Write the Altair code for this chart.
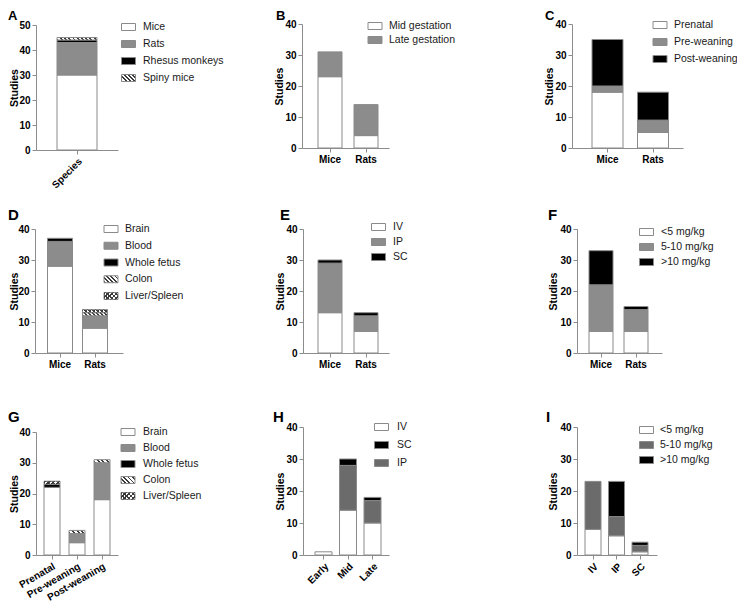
import math
import altair as alt
import pandas as pd

FONT = "Arial, Liberation Sans, sans-serif"

# ------------------------------------------------------------------ data
A_categories = ["Species"]
A_series = ["Mice", "Rats", "Rhesus monkeys", "Spiny mice"]
A_values = [[30, 13, 1, 1]]

B_categories = ["Mice", "Rats"]
B_series = ["Mid gestation", "Late gestation"]
B_values = [[23, 8], [4, 10]]

C_categories = ["Mice", "Rats"]
C_series = ["Prenatal", "Pre-weaning", "Post-weaning"]
C_values = [[18, 2, 15], [5, 4, 9]]

D_categories = ["Mice", "Rats"]
D_series = ["Brain", "Blood", "Whole fetus", "Colon", "Liver/Spleen"]
D_values = [[28, 8, 1, 0, 0], [8, 4, 0, 1, 1]]

E_categories = ["Mice", "Rats"]
E_series = ["IV", "IP", "SC"]
E_values = [[13, 16, 1], [7, 5, 1]]

F_categories = ["Mice", "Rats"]
F_series = ["<5 mg/kg", "5-10 mg/kg", ">10 mg/kg"]
F_values = [[7, 15, 11], [7, 7, 1]]

G_categories = ["Prenatal", "Pre-weaning", "Post-weaning"]
G_series = ["Brain", "Blood", "Whole fetus", "Colon", "Liver/Spleen"]
G_values = [[22, 0, 1, 0, 1], [4, 3, 0, 1, 0], [18, 12, 0, 1, 0]]

H_categories = ["Early", "Mid", "Late"]
H_series = ["IV", "IP", "SC"]          # stacking order
H_legend = ["IV", "SC", "IP"]          # legend order
H_values = [[1, 0, 0], [14, 14, 2], [10, 7, 1]]

I_categories = ["IV", "IP", "SC"]
I_series = ["<5 mg/kg", "5-10 mg/kg", ">10 mg/kg"]
I_values = [[8, 15, 0], [6, 6, 11], [1, 2, 1]]

# ------------------------------------------------------------------ styles
FILL = {"white": "#ffffff", "gray": "#8c8c8c", "dark": "#6b6b6b", "black": "#000000"}
STROKE = "#8a8a8a"
AXC = "#8c8c8c"
CW, CH = 729, 597
RECT = "M-1,-0.5H1V0.5H-1Z"


def stripes(w, h, direction, fg="#3a3a3a", bg="#ffffff", period=3.0, frac=0.45):
    L = (w + h) / math.sqrt(2)
    n = max(1, int(round(L / period)))
    a, b = 1.0 / h, 1.0 / w
    f = (a + b) / (a * a + b * b)
    if direction == "back":
        x1, y1, x2, y2 = 0, 1, f * a, 1 - f * b
    else:
        x1, y1, x2, y2 = 0, 0, f * a, f * b
    stops = []
    for i in range(n):
        s0, s1, s2 = i / n, (i + frac) / n, (i + 1) / n
        stops += [(s0, fg), (s1, fg), (s1, bg), (s2, bg)]
    return alt.LinearGradient(
        gradient="linear",
        stops=[alt.GradientStop(color=c, offset=round(o, 5)) for o, c in stops],
        x1=x1, y1=y1, x2=x2, y2=y2,
    )


def fills_for(style, w, h):
    """list of (fill, draw_stroke) layers for a style"""
    if style in FILL:
        return [(FILL[style], True)]
    if style == "hatch":
        return [(stripes(w, h, "back"), True)]
    # cross hatch
    return [(stripes(w, h, "back"), True),
            (stripes(w, h, "fwd", bg="rgba(255,255,255,0)"), False)]


def panel(letter, cats, series, values, styles, legend_order, L):
    rows = []
    for ci, cat in enumerate(cats):
        acc = 0
        for si, s in enumerate(series):
            v = values[ci][si]
            if v > 0:
                rows.append({"cat": cat, "series": s, "style": styles[si],
                             "lo": acc, "hi": acc + v})
            acc += v
    df = pd.DataFrame(rows)

    W = L["xend"] - L["ax"]
    n = len(cats)
    step = L["step"]
    po = (W / step - n) / 2
    al = (L["c0"] - step / 2) / (W - step * n)
    ymax = L["ymax"]
    ppu = (L["y0"] - L["ytop"]) / ymax

    xenc = alt.X(
        "cat:N",
        scale=alt.Scale(type="band", domain=cats, range=[L["ax"] - 8, L["xend"] - 8],
                        paddingInner=0, paddingOuter=po, align=al),
        axis=alt.Axis(title=None, orient="bottom", offset=(L["y0"] - 8) - CH,
                      labelAngle=L["angle"],
                      labelFont=FONT, labelFontWeight="bold", labelFontSize=10,
                      labelColor="#000000", domainColor=AXC, tickColor=AXC,
                      tickSize=4, labelPadding=2, grid=False),
    )
    yenc = alt.Y(
        "hi:Q",
        scale=alt.Scale(domain=[0, ymax], range=[L["y0"] - 8, L["ytop"] - 8],
                        nice=False, zero=True),
        axis=alt.Axis(title="Studies", orient="left", offset=-(L["ax"] - 8),
                      values=list(range(0, ymax + 1, 10)),
                      labelFont=FONT, labelFontWeight="bold", labelFontSize=10,
                      labelColor="#000000", titleFont=FONT, titleFontWeight="bold",
                      titleFontSize=10.5, titleColor="#000000",
                      titleAngle=270, titleBaseline="bottom", titleAlign="center",
                      titleX=L["tx"], titleY=((L["y0"] + L["ytop"]) / 2 - 8),
                      domainColor=AXC, tickColor=AXC, tickSize=4, labelPadding=2,
                      labelFlush=False, grid=False),
    )
    base = alt.Chart(df)
    bar_layers = []
    used = [st for st in dict.fromkeys(df["style"])]
    for st in used:
        for fill, draw_stroke in fills_for(st, L["bw"], ppu):
            bar_layers.append(
                base.transform_filter(alt.datum.style == st)
                .mark_bar(width=L["bw"], fill=fill, stroke=STROKE,
                          strokeWidth=1 if draw_stroke else 0,
                          strokeOpacity=1 if draw_stroke else 0, opacity=1)
                .encode(x=xenc, y=yenc, y2="lo:Q")
            )
    bars = alt.layer(*bar_layers)

    # legend
    style_of = dict(zip(series, styles))
    ldf = pd.DataFrame({"label": legend_order,
                        "style": [style_of[s] for s in legend_order]})
    lbase = alt.Chart(ldf)
    ly = alt.Y("label:N",
               scale=alt.Scale(type="point", domain=legend_order,
                               range=[L["lr0"] - 8, L["lr1"] - 8], padding=0),
               axis=None)
    leg_layers = []
    for st in dict.fromkeys(ldf["style"]):
        for fill, draw_stroke in fills_for(st, 14, 7):
            leg_layers.append(
                lbase.transform_filter(alt.datum.style == st)
                .mark_point(shape=RECT, size=196, filled=True, fill=fill,
                            stroke=STROKE, strokeWidth=1 if draw_stroke else 0,
                            strokeOpacity=1 if draw_stroke else 0, opacity=1)
                .encode(x=alt.value(L["lbx"] - 8), y=ly)
            )
    leg_layers.append(
        lbase.mark_text(align="left", baseline="middle", font=FONT, fontSize=10.5,
                        color="#1a1a1a")
        .encode(x=alt.value(L["ltx"] - 8), y=ly, text="label:N")
    )
    legend = alt.layer(*leg_layers)

    let = alt.Chart(pd.DataFrame({"t": [letter]})).mark_text(
        align="left", baseline="alphabetic", font=FONT, fontSize=L.get("lfs", 15),
        fontWeight="bold", color="#000000"
    ).encode(x=alt.value(max(0, L["lx"] - 8)), y=alt.value(L["ly"] - 8), text="t:N")

    return alt.layer(bars, legend, let).resolve_scale(y="independent")


panels = [
    panel("A", A_categories, A_series, A_values, ["white", "gray", "black", "hatch"], A_series,
          dict(ax=36, xend=118, y0=150, ytop=25, ymax=50, step=60, c0=41, bw=40, angle=315,
               tx=-17, lbx=128.5, ltx=143, lr0=27, lr1=78, lx=3, ly=20, lfs=13)),
    panel("B", B_categories, B_series, B_values, ["white", "gray"], B_series,
          dict(ax=302, xend=389, y0=148, ytop=24, ymax=40, step=36, c0=28, bw=24, angle=0,
               tx=-18, lbx=375, ltx=389, lr0=26, lr1=40, lx=276, ly=20, lfs=13)),
    panel("C", C_categories, C_series, C_values, ["white", "gray", "black"], C_series,
          dict(ax=572, xend=683, y0=148, ytop=24, ymax=40, step=45.5, c0=35.5, bw=31, angle=0,
               tx=-18, lbx=660, ltx=674, lr0=25, lr1=59, lx=545, ly=20, lfs=13)),
    panel("D", D_categories, D_series, D_values, ["white", "gray", "black", "hatch", "cross"], D_series,
          dict(ax=35, xend=123, y0=353, ytop=229, ymax=40, step=35, c0=25, bw=25, angle=0,
               tx=-16, lbx=111, ltx=125, lr0=229, lr1=296, lx=3, ly=220)),
    panel("E", E_categories, E_series, E_values, ["white", "gray", "black"], E_series,
          dict(ax=303, xend=389, y0=353, ytop=229, ymax=40, step=36, c0=27, bw=24, angle=0,
               tx=-18, lbx=378.5, ltx=393, lr0=227, lr1=257, lx=280, ly=220)),
    panel("F", F_categories, F_series, F_values, ["white", "gray", "black"], F_series,
          dict(ax=577, xend=662, y0=353, ytop=229, ymax=40, step=35, c0=24, bw=24, angle=0,
               tx=-19, lbx=646.5, ltx=661, lr0=232, lr1=262, lx=548, ly=220)),
    panel("G", G_categories, G_series, G_values, ["white", "gray", "black", "hatch", "cross"], G_series,
          dict(ax=36, xend=118, y0=555, ytop=432, ymax=40, step=25, c0=16, bw=16, angle=330,
               tx=-17, lbx=128, ltx=143, lr0=432, lr1=496, lx=3, ly=422)),
    panel("H", H_categories, H_series, H_values, ["white", "dark", "black"], H_legend,
          dict(ax=303, xend=389, y0=555, ytop=427, ymax=40, step=24.5, c0=20.5, bw=17, angle=315,
               tx=-18, lbx=381.5, ltx=397, lr0=427, lr1=463, lx=273, ly=422)),
    panel("I", I_categories, I_series, I_values, ["white", "dark", "black"], I_series,
          dict(ax=577, xend=657, y0=555, ytop=427, ymax=40, step=23.5, c0=16, bw=16, angle=315,
               tx=-19, lbx=646.5, ltx=660, lr0=430, lr1=460, lx=546, ly=422)),
]

chart = (
    alt.layer(*panels)
    .resolve_scale(x="independent", y="independent")
    .properties(width=CW, height=CH, autosize=alt.AutoSizeParams(type="none"), padding=0)
    .configure_view(stroke=None)
)

chart.save("out.html", embed_options={"renderer": "svg", "actions": False})
